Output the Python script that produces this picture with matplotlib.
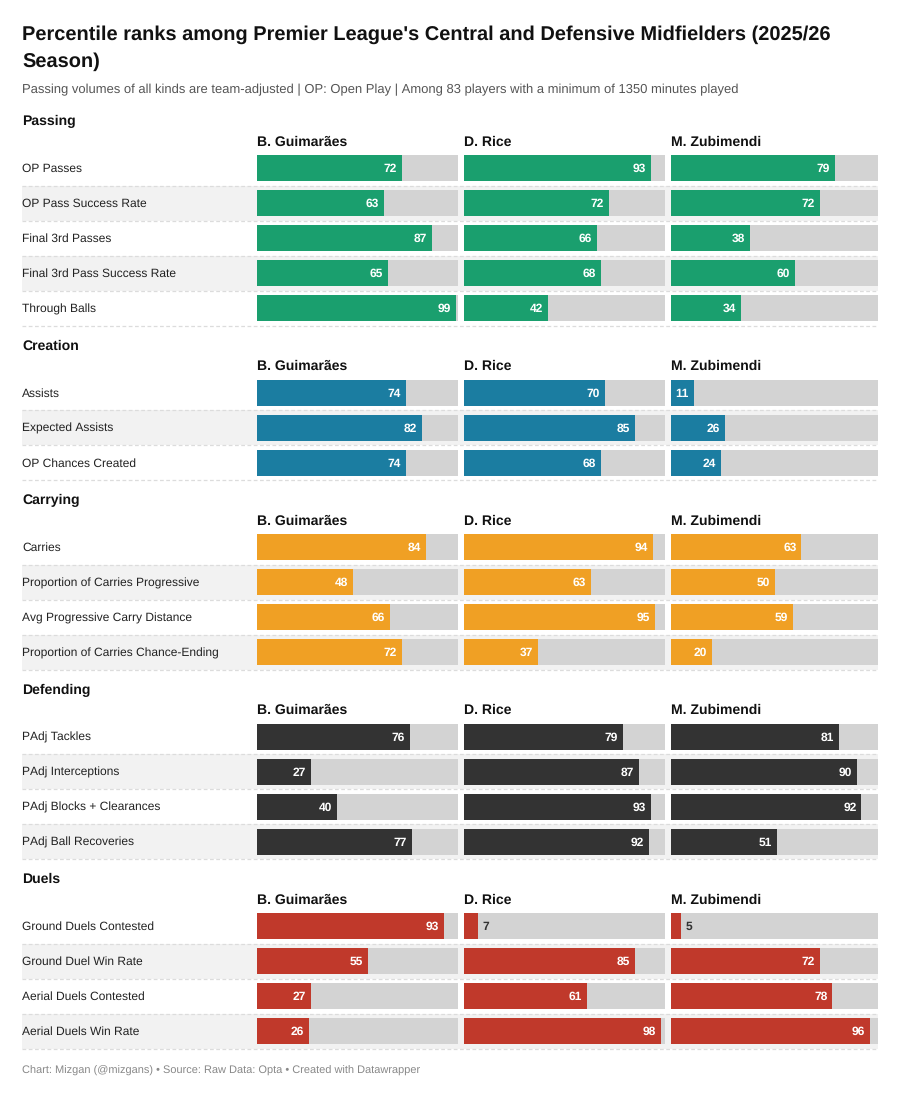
import matplotlib.pyplot as plt

plt.rcParams['font.family'] = ['Liberation Sans', 'DejaVu Sans']
plt.rcParams['text.hinting_factor'] = 1
plt.rcParams['text.hinting'] = 'no_hinting'

players = ["B. Guimarães", "D. Rice", "M. Zubimendi"]

sections = ["Passing", "Creation", "Carrying", "Defending", "Duels"]
section_colors = ["#1a9f6e", "#1b7da1", "#f0a024", "#333333", "#c0392b"]

passing_metrics = ["OP Passes", "OP Pass Success Rate", "Final 3rd Passes",
                   "Final 3rd Pass Success Rate", "Through Balls"]
passing_values = [[72, 93, 79], [63, 72, 72], [87, 66, 38], [65, 68, 60], [99, 42, 34]]

creation_metrics = ["Assists", "Expected Assists", "OP Chances Created"]
creation_values = [[74, 70, 11], [82, 85, 26], [74, 68, 24]]

carrying_metrics = ["Carries", "Proportion of Carries Progressive",
                    "Avg Progressive Carry Distance", "Proportion of Carries Chance-Ending"]
carrying_values = [[84, 94, 63], [48, 63, 50], [66, 95, 59], [72, 37, 20]]

defending_metrics = ["PAdj Tackles", "PAdj Interceptions", "PAdj Blocks + Clearances",
                     "PAdj Ball Recoveries"]
defending_values = [[76, 79, 81], [27, 87, 90], [40, 93, 92], [77, 92, 51]]

duels_metrics = ["Ground Duels Contested", "Ground Duel Win Rate", "Aerial Duels Contested",
                 "Aerial Duels Win Rate"]
duels_values = [[93, 7, 5], [55, 85, 72], [27, 61, 78], [26, 98, 96]]

all_metrics = [passing_metrics, creation_metrics, carrying_metrics, defending_metrics, duels_metrics]
all_values = [passing_values, creation_values, carrying_values, defending_values, duels_values]

# layout in pixels
W, H = 910, 1106
LEFT, RIGHT = 22, 878
COL_X = [257, 464, 671]
COL_W = [201, 201, 207]
ROW_H = 35
BAR_H = 26

fig = plt.figure(figsize=(W / 100, H / 100), dpi=100)
ax = fig.add_axes([0, 0, 1, 1])
ax.set_xlim(0, W)
ax.set_ylim(H, 0)
ax.axis('off')

ax.text(LEFT, 33, "Percentile ranks among Premier League's Central and Defensive Midfielders (2025/26",
        fontsize=14.4, fontweight='bold', color='#111111', va='center_baseline')
ax.text(LEFT, 60, "Season)", fontsize=14.4, fontweight='bold', color='#111111', va='center_baseline')
ax.text(LEFT, 89, "Passing volumes of all kinds are team-adjusted | OP: Open Play | Among 83 players "
        "with a minimum of 1350 minutes played", fontsize=9.3, color='#555555', va='center_baseline')

y = 120
for name, color, metrics, values in zip(sections, section_colors, all_metrics, all_values):
    ax.text(LEFT, y, name, fontsize=10, fontweight='bold', color='#111111', va='center_baseline')
    for j, p in enumerate(players):
        ax.text(COL_X[j], y + 20.5, p, fontsize=9.8, fontweight='bold', color='#111111',
                va='center_baseline')
    y0 = y + 48
    for i, (m, vals) in enumerate(zip(metrics, values)):
        yc = y0 + i * ROW_H
        if i % 2 == 1:
            ax.axhspan(yc - ROW_H / 2, yc + ROW_H / 2, xmin=LEFT / W, xmax=RIGHT / W,
                       color='#f2f2f2', lw=0, zorder=0)
        ax.plot([LEFT, RIGHT], [yc + ROW_H / 2] * 2, color='#dcdcdc', lw=0.9,
                ls=(0, (3, 2)), zorder=1)
        ax.text(LEFT, yc, m, fontsize=8.6, color='#222222', va='center_baseline')
        for j, v in enumerate(vals):
            ax.barh(yc, COL_W[j], left=COL_X[j], height=BAR_H, color='#d3d3d3', lw=0, zorder=2)
            bw = v / 100 * COL_W[j]
            ax.barh(yc, bw, left=COL_X[j], height=BAR_H, color=color, lw=0, zorder=3)
            if v >= 10:
                ax.text(COL_X[j] + bw - 5, yc, str(v), fontsize=8.5, fontweight='bold',
                        color='white', ha='right', va='center_baseline', zorder=4)
            else:
                ax.text(COL_X[j] + bw + 4, yc, str(v), fontsize=8.5, fontweight='bold',
                        color='#333333', ha='left', va='center_baseline', zorder=4)
    y = y0 + (len(metrics) - 1) * ROW_H + ROW_H / 2 + 19

ax.text(LEFT, 1070, "Chart: Mizgan (@mizgans) • Source: Raw Data: Opta • Created with Datawrapper",
        fontsize=8.2, color='#888888', va='center_baseline')

fig.savefig("out.png", dpi=100)
